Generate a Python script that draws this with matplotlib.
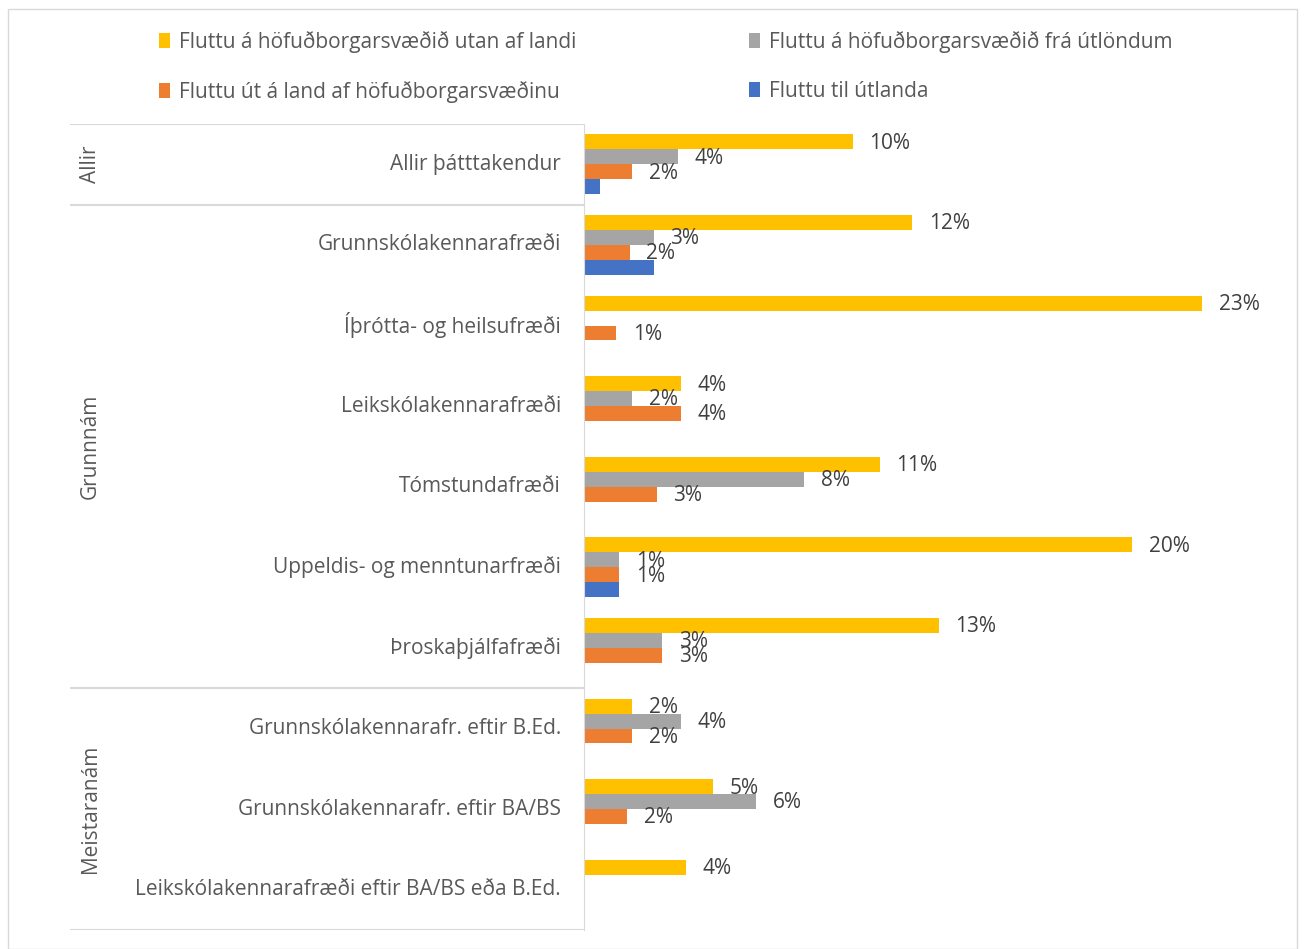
import numpy as np
import matplotlib.pyplot as plt
from matplotlib.patches import Rectangle

plt.rcParams['font.family'] = ['Open Sans', 'DejaVu Sans']

# categories (top to bottom) and their groups
categories = ['Allir þátttakendur', 'Grunnskólakennarafræði', 'Íþrótta- og heilsufræði',
              'Leikskólakennarafræði', 'Tómstundafræði', 'Uppeldis- og menntunarfræði',
              'Þroskaþjálfafræði', 'Grunnskólakennarafr. eftir B.Ed.',
              'Grunnskólakennarafr. eftir BA/BS', 'Leikskólakennarafræði eftir BA/BS eða B.Ed.']
groups = ['Allir', 'Grunnnám', 'Meistaranám']
group_sizes = [1, 6, 3]

series_names = ['Fluttu á höfuðborgarsvæðið utan af landi',
                'Fluttu á höfuðborgarsvæðið frá útlöndum',
                'Fluttu út á land af höfuðborgarsvæðinu',
                'Fluttu til útlanda']
utan_af_landi = [10.0, 12.2, 23.0, 3.6, 11.0, 20.4, 13.2, 1.8, 4.8, 3.8]
fra_utlondum = [3.5, 2.6, None, 1.8, 8.2, 1.3, 2.9, 3.6, 6.4, None]
ut_a_land = [1.8, 1.7, 1.2, 3.6, 2.7, 1.3, 2.9, 1.8, 1.6, None]
til_utlanda = [0.6, 2.6, None, None, None, 1.3, None, None, None, None]
colors = ['#FFC000', '#A5A5A5', '#ED7D31', '#4472C4']
show_labels = [True, True, True, False]

W, H = 1306, 949
fig = plt.figure(figsize=(W / 100, H / 100), dpi=100)

# outer chart border
fig.patches.append(Rectangle((8 / W, 0), (1297 - 8) / W, 1 - 9 / H, transform=fig.transFigure,
                             fill=False, edgecolor='#D9D9D9', linewidth=1))

top, bottom = 124, 930
ax = fig.add_axes([584 / W, 1 - bottom / H, (1256 - 584) / W, (bottom - top) / H])
n = len(categories)
y = np.arange(n)
h = 0.186
all_series = [utan_af_landi, fra_utlondum, ut_a_land, til_utlanda]
for k, (vals, col, lab) in enumerate(zip(all_series, colors, series_names)):
    v = np.array([np.nan if x is None else x for x in vals], dtype=float)
    pos = y + (k - 1.5) * h
    ax.barh(pos, np.nan_to_num(v), height=h, color=col, label=lab)
    if show_labels[k]:
        for p, val in zip(pos, v):
            if np.isnan(val):
                continue
            ax.annotate(f'{val:.0f}%', (val, p), xytext=(12, -1), textcoords='offset points',
                        va='center', ha='left', fontsize=15, color='#404040')

ax.set_xlim(0, 25)
ax.set_ylim(n - 0.5, -0.5)
ax.set_xticks([])
ax.set_yticks([])
for s in ['top', 'right', 'bottom']:
    ax.spines[s].set_visible(False)
ax.spines['left'].set_color('#D9D9D9')

# left group panel
gx = fig.add_axes([70 / W, 1 - bottom / H, (584 - 70) / W, (bottom - top) / H])
gx.set_xlim(0, 514)
gx.set_ylim(n - 0.5, -0.5)
gx.axis('off')
for i, c in enumerate(categories):
    gx.text(491, i, c, ha='right', va='center', fontsize=15, color='#595959')
start = 0
gx.axhline(-0.5, color='#D9D9D9', lw=1.5)
for g, size in zip(groups, group_sizes):
    gx.text(20, start + (size - 1) / 2, g, rotation=90, ha='center', va='center',
            fontsize=15, color='#595959')
    start += size
    gx.axhline(start - 0.5, color='#D9D9D9', lw=1.5)

# legend laid out row by row like the original
handles, labels = ax.get_legend_handles_labels()
order = [0, 2, 1, 3]
fig.legend([handles[i] for i in order], [labels[i] for i in order], loc='upper left',
           bbox_to_anchor=(140 / W, 1 - 12 / H), ncol=2, frameon=False,
           fontsize=15, labelcolor='#595959', handlelength=0.55, handleheight=0.75,
           handletextpad=0.4, columnspacing=8.3, labelspacing=1.35)

fig.savefig('out.png', dpi=100)
